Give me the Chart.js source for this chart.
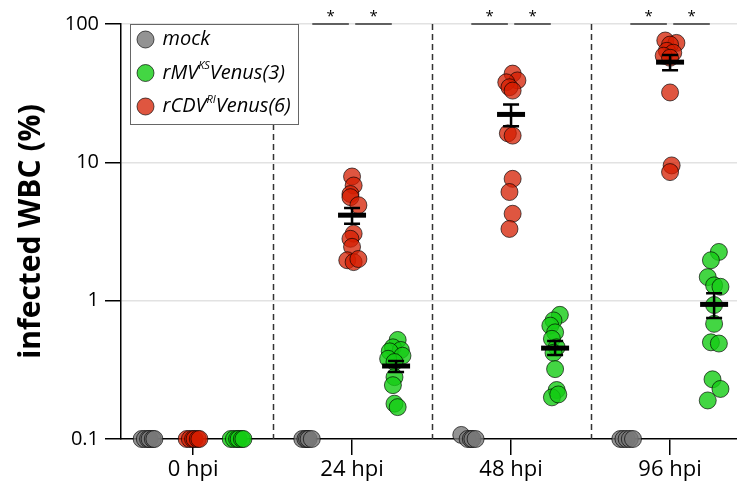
<!DOCTYPE html>
<html>
<head>
<meta charset="utf-8">
<script src="https://cdn.jsdelivr.net/npm/chart.js@4.4.1/dist/chart.umd.min.js"></script>
<style>
  html, body { margin: 0; padding: 0; background: #fff; }
  #wrap { width: 737px; height: 488px; position: relative; }
</style>
</head>
<body>
<div id="wrap"><canvas id="chart"></canvas></div>
<script>
// ================= DATA =================
const timepoints = ["0 hpi", "24 hpi", "48 hpi", "96 hpi"];
const yTicks = [0.1, 1, 10, 100];

// infected WBC (%) per animal
const mock0 = [0.1, 0.1, 0.1, 0.1, 0.1, 0.1];
const mock24 = [0.1, 0.1, 0.1, 0.1, 0.1];
const mock48 = [0.107, 0.1, 0.1, 0.1, 0.1];
const mock96 = [0.1, 0.1, 0.1, 0.1, 0.1];

const cdv0 = [0.1, 0.1, 0.1, 0.1, 0.1, 0.1];
const cdv24 = [7.9, 6.8, 5.9, 5.6, 4.9, 3.05, 2.8, 2.45, 1.96, 1.9, 2.0];
const cdv48 = [43.8, 39.1, 37.9, 34.9, 33.0, 16.2, 15.6, 7.6, 6.1, 4.25, 3.3];
const cdv96 = [76, 73, 71, 64, 62, 59, 57, 32, 9.5, 8.5];

const mv0 = [0.1, 0.1, 0.1, 0.1, 0.1, 0.1];
const mv24 = [0.52, 0.46, 0.44, 0.43, 0.40, 0.38, 0.36, 0.28, 0.245, 0.18, 0.17];
const mv48 = [0.79, 0.72, 0.66, 0.59, 0.53, 0.46, 0.42, 0.32, 0.226, 0.2, 0.21];
const mv96 = [2.25, 1.96, 1.48, 1.29, 1.26, 0.93, 0.68, 0.50, 0.49, 0.27, 0.23, 0.19];

// horizontal scatter of each dot (category units)
const jitMock0 = [-0.04, -0.02, 0, 0.01, 0.03, 0.04];
const jitMock24 = [-0.03, -0.01, 0, 0.01, 0.03];
const jitMock48 = [-0.03, 0.01, 0.03, 0.04, 0.06];
const jitMock96 = [-0.03, -0.01, 0.01, 0.03, 0.05];
const jitCdv0 = [-0.04, -0.02, 0, 0.01, 0.03, 0.04];
const jitCdv24 = [0, 0.01, -0.01, -0.01, 0.04, 0.01, -0.01, 0, -0.03, 0.01, 0.04];
const jitCdv48 = [0.01, 0.04, -0.03, -0.01, 0.01, -0.02, 0.01, 0.01, -0.01, 0.01, -0.01];
const jitCdv96 = [-0.03, 0.04, 0, -0.02, 0.02, -0.04, 0, 0, 0.01, 0];
const jitMv0 = [-0.04, -0.02, 0, 0.01, 0.03, 0.04];
const jitMv24 = [0.01, -0.02, 0.03, -0.04, 0.04, -0.05, -0.01, -0.01, -0.02, -0.01, 0.01];
const jitMv48 = [0.03, -0.01, -0.03, 0, -0.02, 0.01, -0.01, 0, 0.01, -0.02, 0.02];
const jitMv96 = [0.03, -0.02, -0.04, 0, 0.04, 0, 0, -0.02, 0.03, -0.01, 0.04, -0.04];

// mean and SEM limits (24, 48, 96 hpi)
const cdvMean = [4.15, 22.2, 53.0];
const cdvLo = [3.6, 18.2, 46.3];
const cdvHi = [4.68, 26.2, 59.8];
const mvMean = [0.337, 0.454, 0.94];
const mvLo = [0.305, 0.404, 0.75];
const mvHi = [0.366, 0.51, 1.13];
const barTimes = [1, 2, 3];
const sigTimes = [1, 2, 3];

const FONT = "'Open Sans', sans-serif";
const OFF = { mock: -0.283, cdv: 0, mv: 0.277 };

function pts(vals, jit, t, off) {
  return vals.map((v, i) => ({ x: t + off + jit[i], y: v }));
}

const mockPts = [].concat(
  pts(mock0, jitMock0, 0, OFF.mock), pts(mock24, jitMock24, 1, OFF.mock),
  pts(mock48, jitMock48, 2, OFF.mock), pts(mock96, jitMock96, 3, OFF.mock));
const cdvPts = [].concat(
  pts(cdv0, jitCdv0, 0, OFF.cdv), pts(cdv24, jitCdv24, 1, OFF.cdv),
  pts(cdv48, jitCdv48, 2, OFF.cdv), pts(cdv96, jitCdv96, 3, OFF.cdv));
const mvPts = [].concat(
  pts(mv0, jitMv0, 0, OFF.mv), pts(mv24, jitMv24, 1, OFF.mv),
  pts(mv48, jitMv48, 2, OFF.mv), pts(mv96, jitMv96, 3, OFF.mv));

const GRAY = "rgba(120,120,120,0.8)";
const RED = "rgba(212,30,0,0.75)";
const GREEN = "rgba(20,204,20,0.8)";

// ================= PLUGINS =================
const dividers = {
  id: "dividers",
  beforeDatasetsDraw(chart) {
    const { ctx, chartArea, scales } = chart;
    ctx.save();
    ctx.strokeStyle = "#333";
    ctx.lineWidth = 1.5;
    ctx.setLineDash([6, 4]);
    [0.5, 1.5, 2.5].forEach(v => {
      const x = Math.round(scales.x.getPixelForValue(v)) + 0.5;
      ctx.beginPath();
      ctx.moveTo(x, chartArea.top);
      ctx.lineTo(x, chartArea.bottom);
      ctx.stroke();
    });
    ctx.restore();
  }
};

const meanBars = {
  id: "meanBars",
  afterDatasetsDraw(chart) {
    const { ctx, scales } = chart;
    const draw = (t, mean, lo, hi) => {
      const x = scales.x.getPixelForValue(t);
      const ym = scales.y.getPixelForValue(mean);
      const yl = scales.y.getPixelForValue(lo);
      const yh = scales.y.getPixelForValue(hi);
      ctx.strokeStyle = "#000";
      ctx.lineWidth = 2.5;
      ctx.beginPath();
      ctx.moveTo(x, yl); ctx.lineTo(x, yh);
      ctx.moveTo(x - 8, yl); ctx.lineTo(x + 8, yl);
      ctx.moveTo(x - 8, yh); ctx.lineTo(x + 8, yh);
      ctx.stroke();
      ctx.lineWidth = 5;
      ctx.beginPath();
      ctx.moveTo(x - 14, ym); ctx.lineTo(x + 14, ym);
      ctx.stroke();
    };
    ctx.save();
    barTimes.forEach((t, i) => {
      draw(t + OFF.cdv, cdvMean[i], cdvLo[i], cdvHi[i]);
      draw(t + OFF.mv, mvMean[i], mvLo[i], mvHi[i]);
    });
    ctx.restore();
  }
};

const sigBars = {
  id: "sigBars",
  afterDraw(chart) {
    const { ctx, scales } = chart;
    const y = scales.y.getPixelForValue(100);
    ctx.save();
    ctx.strokeStyle = "#333";
    ctx.lineWidth = 1.3;
    ctx.fillStyle = "#000";
    ctx.font = "15px " + FONT;
    ctx.textAlign = "center";
    ctx.textBaseline = "middle";
    sigTimes.forEach(t => {
      [[t - 0.25, t - 0.02], [t + 0.02, t + 0.25]].forEach(([a, b]) => {
        const xa = scales.x.getPixelForValue(a);
        const xb = scales.x.getPixelForValue(b);
        ctx.beginPath();
        ctx.moveTo(xa, y); ctx.lineTo(xb, y);
        ctx.stroke();
        ctx.fillText("*", (xa + xb) / 2, y - 7);
      });
    });
    ctx.restore();
  }
};

const legendBox = {
  id: "legendBox",
  afterDraw(chart) {
    const { ctx, chartArea } = chart;
    const left = chartArea.left + 9.5, top = chartArea.top + 0.5;
    const w = 168, h = 100;
    ctx.save();
    ctx.fillStyle = "#fff";
    ctx.fillRect(left, top, w, h);
    ctx.strokeStyle = "#666";
    ctx.lineWidth = 1;
    ctx.strokeRect(left, top, w, h);

    const rows = [
      { color: GRAY, parts: [["mock", 0]] },
      { color: GREEN, parts: [["rMV", 0], ["KS", 1], ["Venus(3)", 0]] },
      { color: RED, parts: [["rCDV", 0], ["RI", 1], ["Venus(6)", 0]] }
    ];
    rows.forEach((r, i) => {
      const cy = top + 15 + i * 33.5;
      ctx.beginPath();
      ctx.arc(left + 15, cy, 8.5, 0, Math.PI * 2);
      ctx.fillStyle = r.color;
      ctx.fill();
      ctx.strokeStyle = "rgba(0,0,0,0.65)";
      ctx.stroke();
      let x = left + 32;
      ctx.fillStyle = "#000";
      ctx.textBaseline = "middle";
      ctx.textAlign = "left";
      r.parts.forEach(([txt, sup]) => {
        ctx.font = sup ? "italic 11px " + FONT : "italic 20px " + FONT;
        ctx.fillText(txt, x, sup ? cy - 7 : cy);
        x += ctx.measureText(txt).width;
      });
    });
    ctx.restore();
  }
};

// ================= CHART =================
const pointStyle = (color) => ({
  backgroundColor: color,
  borderColor: "rgba(0,0,0,0.65)",
  borderWidth: 1,
  pointRadius: 8.5,
  pointHoverRadius: 8.5,
  clip: false
});

new Chart(document.getElementById("chart"), {
  type: "scatter",
  data: {
    datasets: [
      { label: "mock", data: mockPts, ...pointStyle(GRAY) },
      { label: "rCDV", data: cdvPts, ...pointStyle(RED) },
      { label: "rMV", data: mvPts, ...pointStyle(GREEN) }
    ]
  },
  options: {
    responsive: true,
    maintainAspectRatio: false,
    animation: false,
    layout: { autoPadding: false, padding: { top: 24, left: 0, right: 0, bottom: 0 } },
    plugins: { legend: { display: false }, tooltip: { enabled: false } },
    scales: {
      x: {
        type: "linear",
        min: -0.453,
        max: 3.421,
        afterBuildTicks: s => { s.ticks = timepoints.map((_, i) => ({ value: i })); },
        afterFit: s => { s.height = 49; s.paddingLeft = 0; s.paddingRight = 0; },
        ticks: {
          callback: v => timepoints[v],
          font: { family: FONT, size: 22 },
          color: "#000",
          padding: 2,
          maxRotation: 0
        },
        grid: { drawOnChartArea: false, tickColor: "#000", tickLength: 16, lineWidth: 1.5 },
        border: { color: "#000", width: 1.5 }
      },
      y: {
        type: "logarithmic",
        min: 0.1,
        max: 100,
        afterBuildTicks: s => { s.ticks = yTicks.map(v => ({ value: v })); },
        afterFit: s => { s.width = 121; },
        ticks: {
          callback: v => String(v),
          font: { family: FONT, size: 20 },
          color: "#000",
          padding: 6
        },
        grid: {
          color: c => (c.tick && c.tick.value === 0.1) ? "rgba(0,0,0,0)" : "#e2e2e2",
          tickColor: "#000",
          tickLength: 16,
          lineWidth: 1.5
        },
        border: { color: "#000", width: 1.5 },
        title: {
          display: true,
          text: "infected WBC (%)",
          font: { family: FONT, size: 30, weight: "bold" },
          color: "#000",
          padding: { top: 13, bottom: 0 }
        }
      }
    }
  },
  plugins: [dividers, meanBars, sigBars, legendBox]
});
</script>
</body>
</html>
